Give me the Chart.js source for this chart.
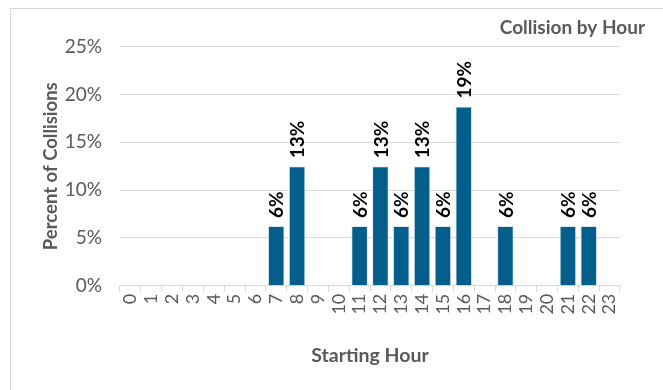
<!DOCTYPE html>
<html>
<head>
<meta charset="utf-8">
<script src="https://cdn.jsdelivr.net/npm/chart.js@4/dist/chart.umd.min.js"></script>
<style>
  body { margin: 0; background: #fff; }
  #frame { position: absolute; left: 10px; top: 8px; width: 700px; height: 420px; border: 1px solid #d9d9d9; }
  #wrap { position: absolute; left: 0; top: 0; width: 663px; height: 390px; }
</style>
</head>
<body>
<div id="frame"></div>
<div id="wrap"><canvas id="hourChart" width="663" height="390"></canvas></div>
<script>
// hours of the day and share of collisions starting in each hour
const hours = ["0","1","2","3","4","5","6","7","8","9","10","11","12","13","14","15","16","17","18","19","20","21","22","23"];
const percentCollisions = [0, 0, 0, 0, 0, 0, 0, 6.25, 12.5, 0, 0, 6.25, 12.5, 6.25, 12.5, 6.25, 18.75, 0, 6.25, 0, 0, 6.25, 6.25, 0];
const yTicks = [0, 5, 10, 15, 20, 25];

const FONT = "Lato, 'Open Sans', sans-serif";
const GREY = "#595959";

// vertical value labels above each bar
const barLabels = {
    id: "barLabels",
    afterDatasetsDraw(chart) {
        const ctx = chart.ctx;
        const meta = chart.getDatasetMeta(0);
        ctx.save();
        ctx.font = "bold 19px " + FONT;
        ctx.fillStyle = "#000";
        ctx.textAlign = "left";
        ctx.textBaseline = "middle";
        meta.data.forEach((bar, i) => {
            const v = percentCollisions[i];
            if (!v) return;
            ctx.save();
            ctx.translate(bar.x, bar.y - 8);
            ctx.rotate(-Math.PI / 2);
            ctx.fillText(Math.round(v) + "%", 0, 1);
            ctx.restore();
        });
        ctx.restore();
    }
};

const ctx = document.getElementById("hourChart").getContext("2d");
new Chart(ctx, {
    type: "bar",
    data: {
        labels: hours,
        datasets: [{
            data: percentCollisions,
            backgroundColor: "#045e8b",
            borderColor: "rgba(220,232,240,0.9)",
            borderWidth: 1,
            barPercentage: 0.8,
            categoryPercentage: 1.0
        }]
    },
    options: {
        responsive: false,
        animation: false,
        layout: { padding: { left: 20, right: 18, top: 8, bottom: 23 } },
        plugins: {
            legend: { display: false },
            tooltip: { enabled: false },
            title: {
                display: true,
                text: "Collision by Hour",
                align: "end",
                color: GREY,
                font: { family: FONT, size: 19, weight: "bold" },
                padding: { top: 8, bottom: 8 }
            }
        },
        scales: {
            x: {
                grid: {
                    offset: true,
                    drawOnChartArea: false,
                    drawTicks: true,
                    tickLength: 6,
                    color: "#d9d9d9"
                },
                border: { color: "#d9d9d9" },
                ticks: {
                    color: GREY,
                    font: { family: FONT, size: 18 },
                    maxRotation: 90,
                    minRotation: 90,
                    padding: 2,
                    autoSkip: false
                },
                title: {
                    display: true,
                    text: "Starting Hour",
                    color: GREY,
                    font: { family: FONT, size: 19.5, weight: "bold" },
                    padding: { top: 27, bottom: 0 }
                }
            },
            y: {
                min: 0,
                max: 25,
                afterBuildTicks: scale => { scale.ticks = yTicks.map(v => ({ value: v })); },
                grid: { color: "#d9d9d9", drawTicks: false },
                border: { display: false },
                ticks: {
                    color: GREY,
                    font: { family: FONT, size: 19 },
                    padding: 18,
                    callback: v => v + "%"
                },
                title: {
                    display: true,
                    text: "Percent of Collisions",
                    color: GREY,
                    font: { family: FONT, size: 18.5, weight: "bold" },
                    padding: { top: 20, bottom: 0 }
                },
                afterFit: scale => { scale.width = 100; }
            },
            yRight: {
                position: "right",
                grid: { display: false },
                border: { display: false },
                ticks: { display: false },
                afterFit: scale => { scale.width = 25; }
            }
        }
    },
    plugins: [barLabels]
});
</script>
</body>
</html>
